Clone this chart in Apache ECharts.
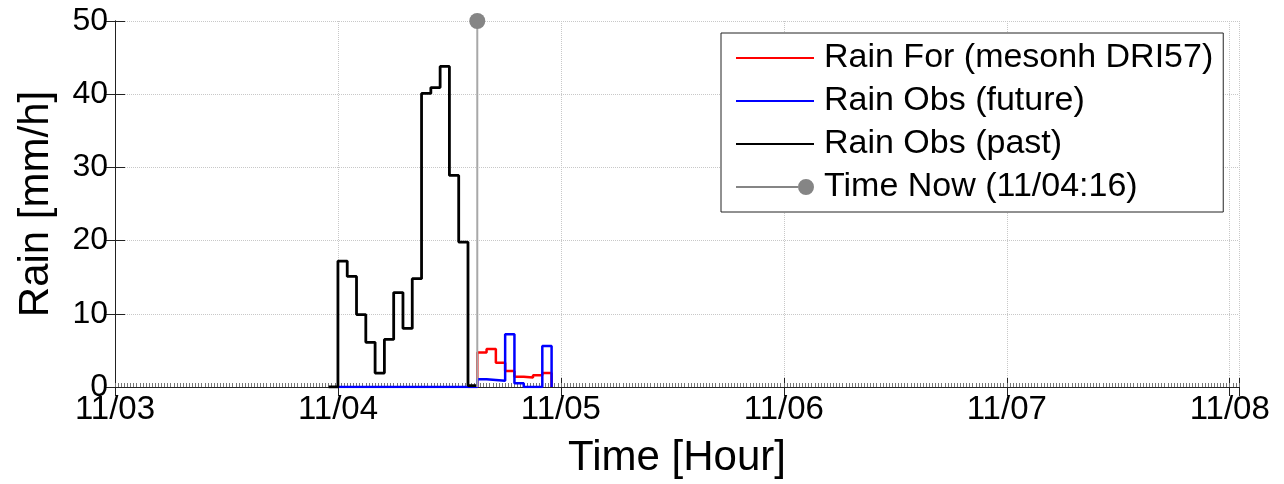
<!DOCTYPE html>
<html>
<head>
<meta charset="utf-8">
<script src="https://cdn.jsdelivr.net/npm/echarts@6/dist/echarts.min.js"></script>
<style>
  html, body { margin: 0; padding: 0; background: #fff; }
  #chart { width: 1284px; height: 484px; }
</style>
</head>
<body>
<div id="chart"></div>
<script>
  // hours counted from 11/03 00:00
  const dayLabels = ['11/03', '11/04', '11/05', '11/06', '11/07', '11/08'];
  const yTicks = [0, 10, 20, 30, 40, 50];

  const pastStart = 23;
  const rainPast = [0, 17.2, 15.1, 9.9, 6.1, 1.9, 6.5, 12.9, 8.0, 14.8, 40.1, 40.9, 43.8, 28.9, 19.8, 0.2, 0.2];

  const forStart = 38;
  const rainFor = [0, 4.7, 5.2, 3.3, 2.2, 1.4, 1.3, 1.6, 1.9, 0];

  const futureStart = 24;
  const rainFuture = [0, 0, 0, 0, 0, 0, 0, 0, 0, 0, 0, 0, 0, 0, 0,
                      1.05, 0.95, 0.85, 7.2, 0.5, 0, 0, 5.6, 0];

  const nowHour = 39;
  const nowLine = [0, 50];

  const font = '"Liberation Sans", Arial, sans-serif';
  const lineIcon = 'path://M0,7 H78 V9 H0 Z';
  const nowIcon = 'path://M0,7 H62 V9 H0 Z M62,8 A8,8 0 1,0 78,8 A8,8 0 1,0 62,8 Z';

  function stairs(start, vals) {
    return vals.map(function (v, i) { return [start + i, v]; });
  }

  const chart = echarts.init(document.getElementById('chart'));

  const option = {
    animation: false,
    backgroundColor: '#fff',
    textStyle: { fontFamily: font },
    grid: { left: 115, right: 45, top: 21, bottom: 97 },
    legend: {
      orient: 'vertical',
      left: 721,
      top: 33,
      padding: [8, 10, 8, 15],
      itemGap: 9,
      itemWidth: 78,
      itemHeight: 16,
      backgroundColor: '#fff',
      borderColor: '#222',
      borderWidth: 1,
      textStyle: { fontFamily: font, fontSize: 34, color: '#000', lineHeight: 34, padding: [0, 0, 0, 5] },
      data: [
        { name: 'Rain For (mesonh DRI57)', icon: lineIcon },
        { name: 'Rain Obs (future)', icon: lineIcon },
        { name: 'Rain Obs (past)', icon: lineIcon },
        { name: 'Time Now (11/04:16)', icon: nowIcon }
      ]
    },
    xAxis: [
      {
        type: 'value',
        min: 0,
        max: 121,
        interval: 24,
        position: 'bottom',
        axisLine: { lineStyle: { color: '#222', width: 1 } },
        axisTick: { inside: true, length: 9, lineStyle: { color: '#222' } },
        axisLabel: {
          fontSize: 33,
          color: '#000',
          margin: 6,
          fontFamily: font,
          formatter: function (v) { return dayLabels[v / 24] || ''; }
        },
        splitLine: { show: true, lineStyle: { color: '#c8c8c8', type: 'dotted', width: 1 } },
        name: 'Time [Hour]',
        nameLocation: 'middle',
        nameGap: 50,
        nameTextStyle: { fontSize: 42, color: '#000', fontFamily: font }
      },
      {
        type: 'value',
        min: 0,
        max: 121,
        interval: 24,
        position: 'top',
        axisLine: { lineStyle: { color: '#222', width: 1 } },
        axisTick: { inside: true, length: 9, lineStyle: { color: '#222' } },
        axisLabel: { show: false },
        splitLine: { show: false }
      },
      {
        // minor ticks, every 20 minutes
        type: 'value',
        min: 0,
        max: 363,
        interval: 1,
        position: 'bottom',
        axisLine: { show: false },
        axisTick: { inside: true, length: 4, lineStyle: { color: '#777' } },
        axisLabel: { show: false },
        splitLine: { show: false }
      }
    ],
    yAxis: [
      {
        type: 'value',
        min: yTicks[0],
        max: yTicks[yTicks.length - 1],
        interval: 10,
        position: 'left',
        axisLine: { show: true, lineStyle: { color: '#222', width: 1 } },
        axisTick: { show: true, inside: true, length: 10, lineStyle: { color: '#222' } },
        axisLabel: { fontSize: 32, color: '#000', margin: 7, fontFamily: font },
        splitLine: { show: true, lineStyle: { color: '#c8c8c8', type: 'dotted', width: 1 } },
        name: 'Rain [mm/h]',
        nameLocation: 'middle',
        nameGap: 58,
        nameTextStyle: { fontSize: 42, color: '#000', fontFamily: font }
      },
      {
        type: 'value',
        min: yTicks[0],
        max: yTicks[yTicks.length - 1],
        interval: 10,
        position: 'right',
        axisLine: { show: true, lineStyle: { color: '#222', width: 1 } },
        axisTick: { show: true, inside: true, length: 10, lineStyle: { color: '#222' } },
        axisLabel: { show: false },
        splitLine: { show: false }
      }
    ],
    series: [
      {
        name: 'Rain For (mesonh DRI57)',
        type: 'line',
        step: 'end',
        symbol: 'none',
        color: '#ff0000',
        lineStyle: { color: '#ff0000', width: 2.5 },
        data: stairs(forStart, rainFor)
      },
      {
        name: 'Rain Obs (future)',
        type: 'line',
        step: 'end',
        symbol: 'none',
        color: '#0000ff',
        lineStyle: { color: '#0000ff', width: 2.5 },
        data: stairs(futureStart, rainFuture)
      },
      {
        name: 'Rain Obs (past)',
        type: 'line',
        step: 'end',
        symbol: 'none',
        color: '#000',
        lineStyle: { color: '#000', width: 2.8 },
        data: stairs(pastStart, rainPast)
      },
      {
        name: 'Time Now (11/04:16)',
        type: 'line',
        clip: false,
        color: '#8a8a8a',
        symbolSize: 16,
        lineStyle: { color: '#a8a8a8', width: 2 },
        itemStyle: { color: '#858585' },
        data: [
          { value: [nowHour, nowLine[0]], symbol: 'none' },
          { value: [nowHour, nowLine[1]], symbol: 'circle' }
        ]
      }
    ]
  };

  chart.setOption(option);
</script>
</body>
</html>
